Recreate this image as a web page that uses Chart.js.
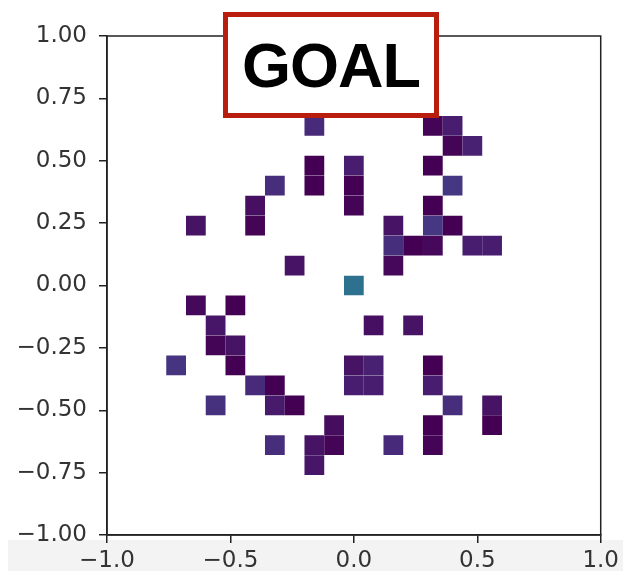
<!DOCTYPE html>
<html>
<head>
<meta charset="utf-8">
<script src="https://cdn.jsdelivr.net/npm/chart.js@4/dist/chart.umd.min.js"></script>
<style>
  html, body { margin: 0; padding: 0; background: #ffffff; }
  #wrap { position: relative; width: 623px; height: 571px; overflow: hidden; }
  #band { position: absolute; left: 8px; top: 540px; right: 0; bottom: 0; background: #f3f3f3; }
  #c { position: absolute; left: 0; top: 0; }
  #goal {
    position: absolute; left: 223px; top: 12px; width: 206px; height: 96px;
    border: 5px solid #b81d0d; background: #ffffff;
    font-family: 'Liberation Sans', Arial, Helvetica, sans-serif; font-weight: bold;
    font-size: 63px; line-height: 96px; text-align: center; color: #000;
    letter-spacing: -1px;
  }
</style>
</head>
<body>
<div id="wrap">
  <div id="band"></div>
  <canvas id="c" width="623" height="571"></canvas>
  <div id="goal">GOAL</div>
</div>
<script>
// 2D histogram: 25 x 25 bins over [-1, 1]; bin centres and normalised weights
const binWidth = 0.08;
const binX = [
  -0.16, -0.16, -0.16, 0.00, 0.00, 0.00, -0.32, -0.40, -0.40, -0.64,
  -0.24, 0.00, -0.64, -0.48, -0.56, -0.56, -0.48, -0.48, -0.72, -0.40,
  -0.32, -0.56, -0.32, -0.24, -0.08, -0.08, -0.16, -0.16, -0.32, 0.00,
  0.08, 0.00, 0.08, 0.08, 0.24, 0.32, 0.32, 0.40, 0.56, 0.56,
  0.16, 0.32, 0.32, 0.32, 0.40, 0.40, 0.48, 0.32, 0.40, 0.32,
  0.32, 0.40, 0.16, 0.16, 0.24, 0.32, 0.48, 0.56, 0.16
];
const binY = [
  0.64, 0.48, 0.40, 0.48, 0.40, 0.32, 0.40, 0.32, 0.24, 0.24,
  0.08, 0.00, -0.08, -0.08, -0.16, -0.24, -0.24, -0.32, -0.32, -0.40,
  -0.40, -0.48, -0.48, -0.48, -0.56, -0.64, -0.64, -0.72, -0.64, -0.32,
  -0.32, -0.40, -0.40, -0.16, -0.16, -0.32, -0.40, -0.48, -0.48, -0.56,
  -0.64, -0.56, -0.64, 0.64, 0.64, 0.56, 0.56, 0.48, 0.40, 0.32,
  0.24, 0.24, 0.24, 0.16, 0.16, 0.16, 0.16, 0.16, 0.08
];
const binValue = [
  0.12, 0.00, 0.00, 0.08, 0.00, 0.01, 0.13, 0.04, 0.01, 0.05,
  0.05, 0.37, 0.02, 0.00, 0.06, 0.01, 0.05, 0.00, 0.15, 0.12,
  0.00, 0.14, 0.07, 0.00, 0.03, 0.01, 0.05, 0.06, 0.13, 0.05,
  0.09, 0.08, 0.08, 0.04, 0.05, 0.00, 0.08, 0.13, 0.05, 0.00,
  0.12, 0.00, 0.01, 0.01, 0.08, 0.01, 0.09, 0.00, 0.16, 0.00,
  0.16, 0.00, 0.05, 0.13, 0.00, 0.02, 0.08, 0.08, 0.02
];
const xTickValues = [-1.0, -0.5, 0.0, 0.5, 1.0];
const yTickValues = [-1.0, -0.75, -0.5, -0.25, 0.0, 0.25, 0.5, 0.75, 1.0];

// viridis colour map stops (position, r, g, b)
const viridisStops = [
  [0.00, 68, 1, 84], [0.05, 71, 19, 101], [0.10, 72, 36, 117], [0.15, 70, 52, 128],
  [0.20, 65, 68, 135], [0.25, 59, 82, 139], [0.30, 53, 95, 141], [0.35, 47, 108, 142],
  [0.40, 42, 120, 142], [0.45, 37, 132, 142], [0.50, 33, 145, 140], [1.00, 253, 231, 37]
];
function viridis(v) {
  for (let k = 0; k < viridisStops.length - 1; k++) {
    const a = viridisStops[k], b = viridisStops[k + 1];
    if (v <= b[0]) {
      const t = (v - a[0]) / (b[0] - a[0]);
      const r = Math.round(a[1] + t * (b[1] - a[1]));
      const g = Math.round(a[2] + t * (b[2] - a[2]));
      const bl = Math.round(a[3] + t * (b[3] - a[3]));
      return 'rgb(' + r + ',' + g + ',' + bl + ')';
    }
  }
  return 'rgb(253,231,37)';
}

const points = binX.map((x, i) => ({ x: x, y: binY[i] }));
const tickFont = { family: "'DejaVu Sans', sans-serif", size: 23 };
const fmt = (v, d) => v.toFixed(d).replace('-', '\u2212');

const frame = {
  id: 'frame',
  afterDraw(chart) {
    const a = chart.chartArea, ctx = chart.ctx;
    ctx.save();
    ctx.strokeStyle = '#222';
    ctx.lineWidth = 1.5;
    ctx.strokeRect(a.left, a.top, a.right - a.left, a.bottom - a.top);
    ctx.restore();
  }
};

const cellRadius = (c) => {
  const s = c.chart.scales.x;
  return Math.abs(s.getPixelForValue(binWidth) - s.getPixelForValue(0)) / Math.SQRT2;
};

new Chart(document.getElementById('c'), {
  type: 'scatter',
  data: {
    datasets: [{
      data: points,
      pointStyle: 'rect',
      borderWidth: 0,
      pointBorderWidth: 0,
      backgroundColor: (c) => viridis(binValue[c.dataIndex]),
      pointRadius: cellRadius,
      pointHoverRadius: cellRadius
    }]
  },
  options: {
    responsive: false,
    animation: false,
    events: [],
    layout: { padding: { top: 36, right: 17, left: 0, bottom: 0 } },
    plugins: { legend: { display: false }, tooltip: { enabled: false } },
    scales: {
      x: {
        type: 'linear', min: -1, max: 1,
        afterFit: (s) => { s.height = 36; },
        afterBuildTicks: (s) => { s.ticks = xTickValues.map(v => ({ value: v })); },
        ticks: { font: tickFont, color: '#333', padding: 4, maxRotation: 0,
                 callback: (v) => fmt(v, 1) },
        grid: { drawOnChartArea: false, drawTicks: true, tickLength: 8, color: '#222', lineWidth: 1.5 },
        border: { display: true, color: '#222', width: 1.5 }
      },
      y: {
        type: 'linear', min: -1, max: 1,
        afterFit: (s) => { s.width = 107; },
        afterBuildTicks: (s) => { s.ticks = yTickValues.map(v => ({ value: v })); },
        ticks: { font: tickFont, color: '#333', padding: 12,
                 callback: (v) => fmt(v, 2) },
        grid: { drawOnChartArea: false, drawTicks: true, tickLength: 8, color: '#222', lineWidth: 1.5 },
        border: { display: true, color: '#222', width: 1.5 }
      }
    }
  },
  plugins: [frame]
});
</script>
</body>
</html>
